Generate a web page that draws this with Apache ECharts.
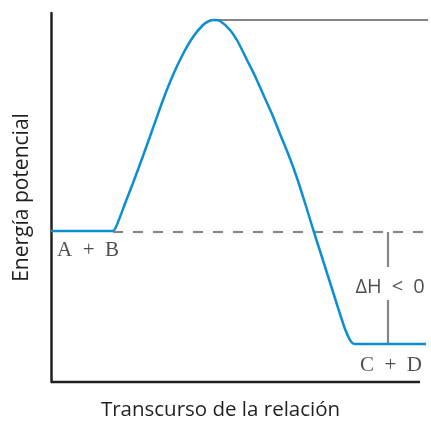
<!DOCTYPE html>
<html>
<head>
<meta charset="utf-8">
<style>
  html, body { margin: 0; padding: 0; background: #fff; }
  #chart { width: 431px; height: 421px; }
</style>
<script src="https://cdn.jsdelivr.net/npm/echarts@6/dist/echarts.min.js"></script>
</head>
<body>
<div id="chart"></div>
<script>
// reaction progress (x) vs potential energy (y), arbitrary units
var energyCurve = [
  [0, 151], [61, 151], [64, 153], [69, 165], [75, 181], [82, 199], [92, 226], [102, 254],
  [112, 282], [122, 307], [132, 328], [142, 345], [152, 357], [158, 361], [163, 362],
  [169, 361], [179, 352], [187, 340], [196, 322], [204, 306], [212, 288], [221, 268],
  [229, 248], [238, 226], [246, 204], [254, 179], [262, 153], [269, 131],
  [276, 109], [283, 87], [289, 68], [294, 53], [299, 42], [302, 38.5], [305, 38], [375, 38]
]
var reactantLevel = [[62, 150], [377, 150]]
var peakLevel = [[164, 362], [377, 362]]
var deltaUpper = [[337, 150], [337, 115]]
var deltaLower = [[337, 82], [337, 38]]
var xAxisLine = [[0, 0], [369, 0]]
var speciesLabels = [
  { name: 'A\u2002+\u2002B', value: [37, 132] },
  { name: 'C\u2002+\u2002D', value: [340, 17] }
]
var deltaLabel = [{ name: '\u0394H\u2002<\u20020', value: [339, 95] }]
var xTitle = 'Transcurso de la relación'
var yTitle = 'Energía potencial'

var INK = '#231f20'
var GRAY = '#858585'
var BLUE = '#0c8fd1'

var chart = echarts.init(document.getElementById('chart'))

function plainLine(data, color, width, type) {
  return {
    type: 'line',
    data: data,
    symbol: 'none',
    silent: true,
    clip: false,
    lineStyle: { color: color, width: width, type: type || 'solid', cap: 'butt' }
  }
}

function textSeries(data, font, size) {
  return {
    type: 'scatter',
    data: data,
    symbolSize: 0,
    silent: true,
    label: {
      show: true,
      position: 'inside',
      formatter: function (p) { return p.name },
      color: INK,
      textBorderWidth: 0,
      fontSize: size,
      fontFamily: font
    }
  }
}

chart.setOption({
  animation: false,
  grid: { left: 51, right: 3, top: 13, bottom: 39, outerBoundsMode: 'none' },
  xAxis: {
    type: 'value',
    min: 0,
    max: 377,
    name: xTitle,
    nameLocation: 'middle',
    nameGap: 18,
    // title sits a little left of the axis centre in the original
    nameTextStyle: { fontFamily: 'Open Sans', fontSize: 20.5, color: INK, padding: [0, 38, 0, 0] },
    axisLine: { show: false },
    axisTick: { show: false },
    axisLabel: { show: false },
    splitLine: { show: false }
  },
  yAxis: {
    type: 'value',
    min: 0,
    max: 369,
    name: yTitle,
    nameLocation: 'middle',
    nameGap: 18,
    nameTextStyle: { fontFamily: 'Open Sans', fontSize: 21, color: INK },
    axisLine: { show: true, lineStyle: { color: INK, width: 2.5 } },
    axisTick: { show: false },
    axisLabel: { show: false },
    splitLine: { show: false }
  },
  series: [
    plainLine(xAxisLine, INK, 2.5),
    plainLine(reactantLevel, GRAY, 2.2, [10, 10]),
    plainLine(peakLevel, GRAY, 2.2),
    plainLine(deltaUpper, GRAY, 2.2),
    plainLine(deltaLower, GRAY, 2.2),
    Object.assign(plainLine(energyCurve, BLUE, 2.5), { smooth: 0.2 }),
    textSeries(speciesLabels, 'Liberation Serif', 21),
    textSeries(deltaLabel, 'Open Sans', 20)
  ]
})
</script>
</body>
</html>
